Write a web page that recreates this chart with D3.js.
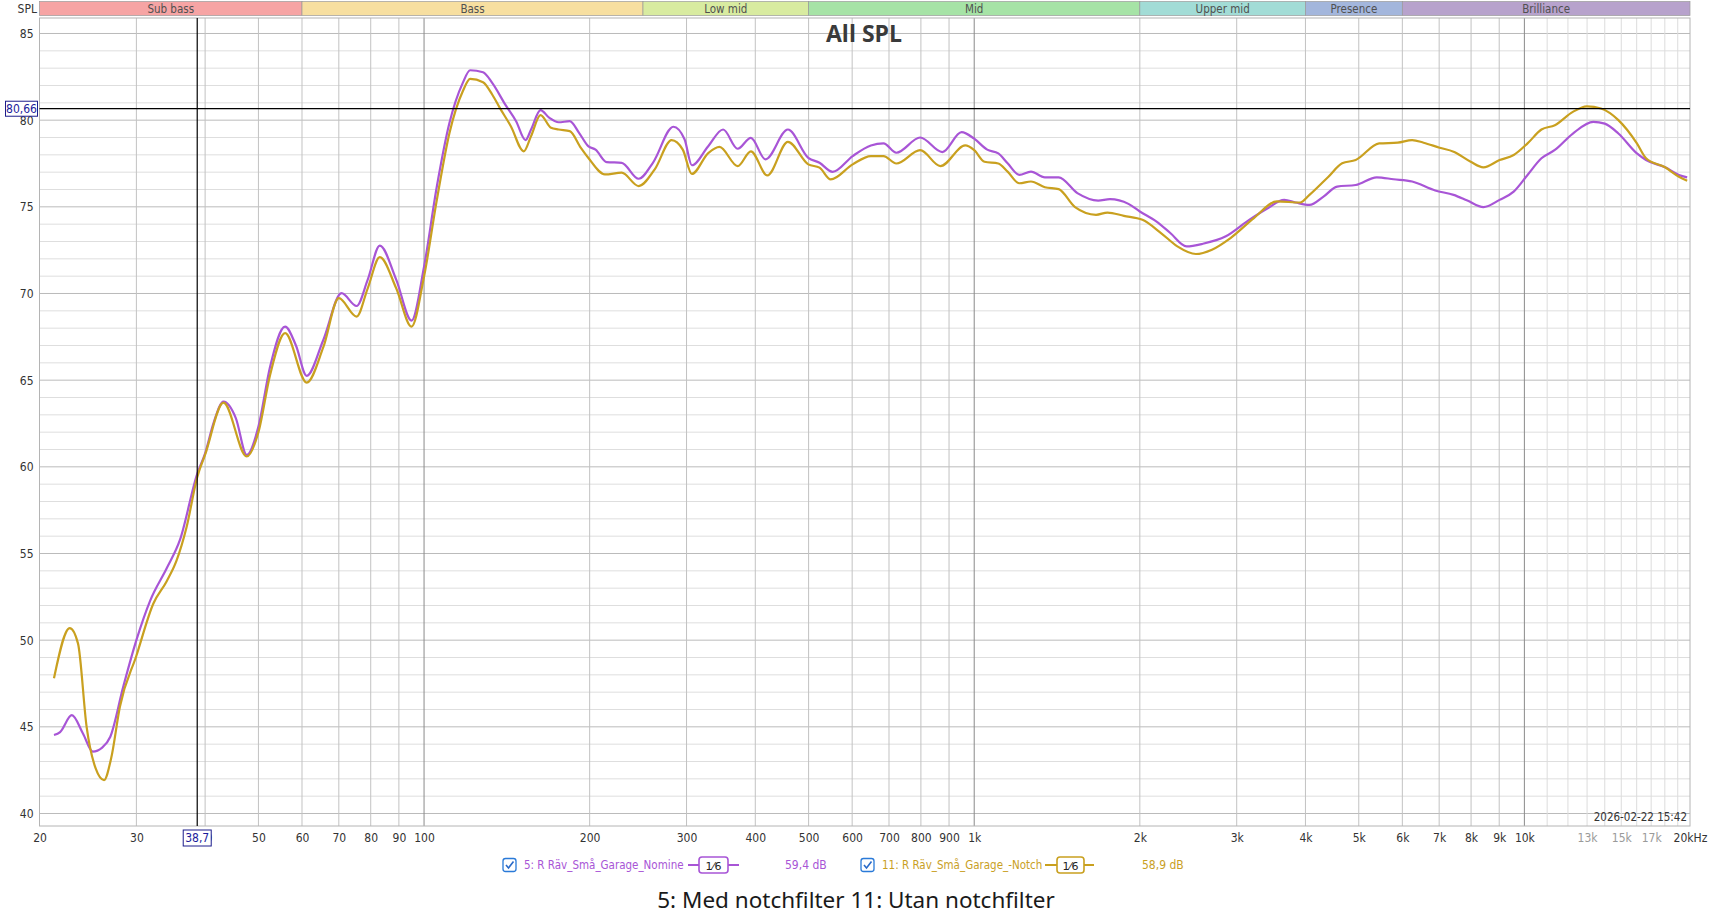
<!DOCTYPE html>
<html><head><meta charset="utf-8">
<script src="https://cdn.jsdelivr.net/npm/d3@7"></script>
<style>
html,body{margin:0;padding:0;background:#fff;}
svg{display:block;}
</style></head>
<body>
<svg id="chart" width="1711" height="919"></svg>
<script>
// ---------------- DATA ----------------
const bandNames = ["Sub bass","Bass","Low mid","Mid","Upper mid","Presence","Brilliance"];
const bandEdges = [20,60,250,500,2000,4000,6000,20000];
const bandColors = ["#f6a4a4","#f7dfa0","#d8eba0","#a6e3a6","#a2dcd6","#a3b6dc","#b7a2cc"];

const yTicks = [40,45,50,55,60,65,70,75,80,85];
const xTickValues = [20,30,40,50,60,70,80,90,100,200,300,400,500,600,700,800,900,1000,2000,3000,4000,5000,6000,7000,8000,9000,10000,13000,15000,17000,20000];
const xTickLabels = ["20","30","40","50","60","70","80","90","100","200","300","400","500","600","700","800","900","1k","2k","3k","4k","5k","6k","7k","8k","9k","10k","13k","15k","17k","20kHz"];
const xTickGrey = ["13k","15k","17k"];
const extraGrid = [11000,12000,13000,14000,15000,16000,17000,18000,19000];

// Series 5: "R Räv_Små_Garage_Nomine" (purple)
const freq5 = [21.25,21.8,22.9,24.0,25.0,26.0,26.9,28.4,30,31.8,34.06,36.0,38.7,40,41.5,43.2,45.5,47.6,50,52.5,55.9,58.5,61.2,65.6,70.8,75.4,79,83.1,89,94.9,100,105.5,111.2,117.6,121.3,128,133,140.5,147,152.9,156.5,162.8,169,175.6,184,191.3,198.8,205,214.8,228.7,245.5,260.6,283.9,297.5,306.7,328.5,349.6,371.6,392.7,417.4,458.5,499.3,523.4,552.8,601.3,648.9,684,721.9,797.6,875,948.6,1000,1056,1106,1150,1208,1268,1344,1424,1540,1680,1765,1907,2000,2142,2272,2432,2604,2867,3161,3416,3660,3838,4068,4314,4568,4936,5391,5784,6252,6886,7436,7877,8425,9013,9562,10133,10740,11360,12250,13345,14000,14820,16015,16640,18020,19093,19763];
const spl5 = [44.53,44.7,45.67,44.6,43.57,43.8,44.43,47.32,50.0,52.3,54.15,55.78,59.6,60.78,62.6,63.76,62.8,60.69,62.32,65.78,68.09,67.0,65.25,67.32,70.02,69.28,70.8,72.76,70.8,68.44,71.55,76.17,79.83,82.15,82.88,82.76,82.15,80.9,79.94,78.85,79.46,80.58,80.13,79.88,79.94,79.27,78.5,78.3,77.58,77.54,76.62,77.54,79.62,78.9,77.4,78.5,79.46,78.35,78.98,77.74,79.46,77.83,77.54,77.02,77.93,78.54,78.66,78.12,79.0,78.16,79.31,78.93,78.3,78.08,77.51,76.84,77.03,76.7,76.7,75.79,75.36,75.44,75.17,74.73,74.16,73.49,72.72,72.87,73.3,74.25,74.92,75.4,75.25,75.11,75.59,76.17,76.26,76.7,76.59,76.46,75.94,75.69,75.36,74.98,75.4,75.88,76.84,77.8,78.28,79.23,79.9,79.8,79.23,78.08,77.7,77.28,76.84,76.7];

// Series 11: "R Räv_Små_Garage_-Notch" (gold)
const freq11 = [21.25,22.7,23.5,24.36,25.3,26.2,27.0,28.0,30,32.2,34.06,35.5,37.0,38.7,40,43.2,47.6,50,52.5,55.9,61.2,65.6,70,75.4,79,83.1,89,94.9,100,105.5,111.2,117.6,121.3,128,133,137.3,143.8,151.8,156.5,162.8,170.1,175.6,184,192.8,198.8,213.2,228.7,245.5,262.6,281.8,295.3,306.7,328.5,344.4,371.6,392.7,420.7,458.5,499.3,523.4,548.5,601.3,648.9,684,721.9,797.6,868,963,1000,1044,1106,1150,1208,1268,1344,1424,1525,1665,1747,1871,2022,2185,2340,2529,2705,2923,3224,3551,3914,4068,4404,4664,4936,5445,5884,6252,6559,7015,7436,7988,8425,9013,9562,10133,10740,11360,12250,12990,13780,14820,16015,16640,18020,19093,19763];
const spl11 = [47.8,50.69,49.8,45.0,42.6,41.93,43.2,46.16,49.1,52.1,53.4,54.6,56.5,59.4,60.7,63.7,60.6,62.0,65.3,67.71,64.86,66.9,69.73,68.67,70.3,72.1,70.3,68.09,70.98,75.4,79.25,81.67,82.38,82.19,81.48,80.71,79.65,78.2,79.08,80.29,79.56,79.46,79.37,78.4,77.83,76.87,76.97,76.2,77.16,78.85,78.3,76.9,78.1,78.46,77.35,78.2,76.81,78.75,77.45,77.26,76.58,77.45,77.93,77.93,77.5,78.27,77.35,78.54,78.27,77.6,77.5,77.03,76.36,76.46,76.13,76.02,74.98,74.54,74.67,74.48,74.25,73.49,72.72,72.28,72.53,73.2,74.35,75.31,75.25,75.69,76.74,77.51,77.7,78.66,78.7,78.85,78.7,78.41,78.18,77.6,77.28,77.7,77.99,78.66,79.46,79.71,80.48,80.8,80.67,80.0,78.66,77.8,77.28,76.74,76.51];

const seriesNames = ["5: R Räv_Små_Garage_Nomine","11: R Räv_Små_Garage_-Notch"];
const seriesLevels = ["59,4 dB","58,9 dB"];
const seriesColors = ["#a855d6","#c9a01f"];
const cursorFreq = 38.7, cursorSpl = 80.66;
const cursorFreqLabel = "38,7", cursorSplLabel = "80,66";
const titleText = "All SPL";
const captionText = "5: Med notchfilter 11: Utan notchfilter";
const dateText = "2026-02-22 15:42";

// ---------------- DRAW ----------------
const svg = d3.select("#chart");
const L = 39.5, R = 1690, T = 18, B = 826;
const x = d3.scaleLog().domain([20,20000]).range([L,R]);
const y = d3.scaleLinear().domain([39.279,85.894]).range([B,T]);
const narrow = "'Liberation Sans Narrow','DejaVu Sans Condensed','Arial Narrow',sans-serif";

// band bar
const bands = bandNames.map((n,i)=>({name:n,lo:bandEdges[i],hi:bandEdges[i+1],c:bandColors[i]}));
const bg = svg.append("g");
bg.selectAll("rect").data(bands).join("rect")
  .attr("x",d=>x(d.lo)).attr("y",1.5).attr("width",d=>x(d.hi)-x(d.lo)).attr("height",14)
  .attr("fill",d=>d.c).attr("stroke","#9a9a9a").attr("stroke-width",0.7);
bg.selectAll("text").data(bands).join("text")
  .attr("x",d=>(x(d.lo)+x(d.hi))/2).attr("y",12.5).attr("text-anchor","middle")
  .attr("font-family",narrow).attr("font-size",11.5).attr("fill","#505050").text(d=>d.name);
svg.append("text").attr("x",37).attr("y",12.5).attr("text-anchor","end")
  .attr("font-family",narrow).attr("font-size",12).attr("fill","#333").text("SPL");

// grid
const grid = svg.append("g");
const minorY = d3.range(40,86).filter(v=>v%5!==0);
grid.selectAll(".hmin").data(minorY).join("line")
  .attr("x1",L).attr("x2",R).attr("y1",d=>y(d)).attr("y2",d=>y(d))
  .attr("stroke","#dedede").attr("stroke-width",1);
grid.selectAll(".hmaj").data(yTicks).join("line")
  .attr("x1",L).attr("x2",R).attr("y1",d=>y(d)).attr("y2",d=>y(d))
  .attr("stroke","#bbbbbb").attr("stroke-width",1);
grid.selectAll(".vext").data(extraGrid).join("line")
  .attr("x1",d=>x(d)).attr("x2",d=>x(d)).attr("y1",T).attr("y2",B)
  .attr("stroke","#dcdcdc").attr("stroke-width",1);
const mainV = xTickValues.filter(v=>v>20 && v<20000 && extraGrid.indexOf(v)<0);
grid.selectAll(".vmaj").data(mainV).join("line")
  .attr("x1",d=>x(d)).attr("x2",d=>x(d)).attr("y1",T).attr("y2",B)
  .attr("stroke",d=>(d===100||d===1000||d===10000)?"#8a8a8a":"#c2c2c2").attr("stroke-width",1);
// frame
svg.append("rect").attr("x",L).attr("y",T).attr("width",R-L).attr("height",B-T)
  .attr("fill","none").attr("stroke","#b4b4b4").attr("stroke-width",1);

// axes labels
const yAxis = d3.axisLeft(y).tickValues(yTicks).tickSize(0).tickPadding(6).tickFormat(d3.format("d"));
const ya = svg.append("g").attr("transform",`translate(${L},0)`).call(yAxis);
ya.select(".domain").remove();
ya.selectAll("text").attr("font-family",narrow).attr("font-size",12).attr("fill","#333");

const xAxis = d3.axisBottom(x).tickValues(xTickValues).tickSize(0).tickPadding(7)
  .tickFormat((d,i)=>xTickLabels[i]);
const xa = svg.append("g").attr("transform",`translate(0,${B})`).call(xAxis);
xa.select(".domain").remove();
xa.selectAll("text").attr("font-family",narrow).attr("font-size",12)
  .attr("fill",(d,i)=>xTickGrey.indexOf(xTickLabels[i])>=0?"#9a9a9a":"#333");

// title
svg.append("text").attr("x",864).attr("y",42).attr("text-anchor","middle")
  .attr("font-family","'Open Sans','Noto Sans',sans-serif").attr("font-weight","bold")
  .attr("font-size",23).attr("fill","#3a3a3a").text(titleText);

// date
svg.append("text").attr("x",R-3).attr("y",821).attr("text-anchor","end")
  .attr("font-family",narrow).attr("font-size",11.5).attr("fill","#333").text(dateText);

// curves
const line = d3.line().x(d=>x(d[0])).y(d=>y(d[1])).curve(d3.curveMonotoneX);
const series = [
  {pts: freq5.map((f,i)=>[f,spl5[i]]), c: seriesColors[0]},
  {pts: freq11.map((f,i)=>[f,spl11[i]]), c: seriesColors[1]}
];
const cg = svg.append("g");
cg.selectAll("path").data(series).join("path")
  .attr("d",d=>line(d.pts)).attr("fill","none").attr("stroke",d=>d.c)
  .attr("stroke-width",2.2).attr("stroke-linejoin","round");

// cursors
svg.append("line").attr("x1",x(cursorFreq)).attr("x2",x(cursorFreq)).attr("y1",T).attr("y2",B)
  .attr("stroke","#000").attr("stroke-width",1.2);
svg.append("line").attr("x1",L).attr("x2",R).attr("y1",y(cursorSpl)).attr("y2",y(cursorSpl))
  .attr("stroke","#000").attr("stroke-width",1.2);
function cursorBox(cx, cy, w, h, label){
  svg.append("rect").attr("x",cx-w/2).attr("y",cy-h/2).attr("width",w).attr("height",h)
    .attr("fill","#fff").attr("stroke","#1c1c8c").attr("stroke-width",1);
  svg.append("text").attr("x",cx).attr("y",cy+4.3).attr("text-anchor","middle")
    .attr("font-family",narrow).attr("font-size",12).attr("fill","#1c1c9c").text(label);
}
cursorBox(21.5, y(cursorSpl), 32, 15, cursorSplLabel);
cursorBox(x(cursorFreq), 838, 28, 16, cursorFreqLabel);

// legend
const legendY = 865;
const leg = [
  {cb:509.5, tx:524, seg:[688,739], box:[699,728], lv:785},
  {cb:867.5, tx:882, seg:[1045,1094], box:[1057,1084], lv:1142}
];
leg.forEach((p,i)=>{
  const g = svg.append("g");
  g.append("rect").attr("x",p.cb-6.5).attr("y",legendY-6.5).attr("width",13).attr("height",13)
    .attr("rx",2.5).attr("fill","#fff").attr("stroke","#2a7ad8").attr("stroke-width",1.3);
  g.append("path").attr("d",`M${p.cb-3.5},${legendY} L${p.cb-1},${legendY+3} L${p.cb+4},${legendY-3.5}`)
    .attr("fill","none").attr("stroke","#2a6ac8").attr("stroke-width",1.6);
  g.append("text").attr("x",p.tx).attr("y",legendY+4.3).attr("font-family",narrow)
    .attr("font-size",11.5).attr("fill",seriesColors[i]).text(seriesNames[i]);
  g.append("line").attr("x1",p.seg[0]).attr("x2",p.seg[1]).attr("y1",legendY).attr("y2",legendY)
    .attr("stroke",seriesColors[i]).attr("stroke-width",2);
  g.append("rect").attr("x",p.box[0]).attr("y",legendY-8).attr("width",p.box[1]-p.box[0]).attr("height",16)
    .attr("rx",3).attr("fill","#fff").attr("stroke",seriesColors[i]).attr("stroke-width",1.6);
  g.append("text").attr("x",(p.box[0]+p.box[1])/2).attr("y",legendY+4.5).attr("text-anchor","middle")
    .attr("font-family","'DejaVu Sans',sans-serif").attr("font-size",11).attr("fill","#222").text("1⁄6");
  g.append("text").attr("x",p.lv).attr("y",legendY+4.3).attr("font-family",narrow)
    .attr("font-size",12).attr("fill",seriesColors[i]).text(seriesLevels[i]);
});

// caption
svg.append("text").attr("x",856).attr("y",908).attr("text-anchor","middle")
  .attr("font-family","'Noto Sans','Open Sans',sans-serif").attr("font-size",22.5)
  .attr("fill","#1a1a1a").text(captionText);
</script>
</body></html>
